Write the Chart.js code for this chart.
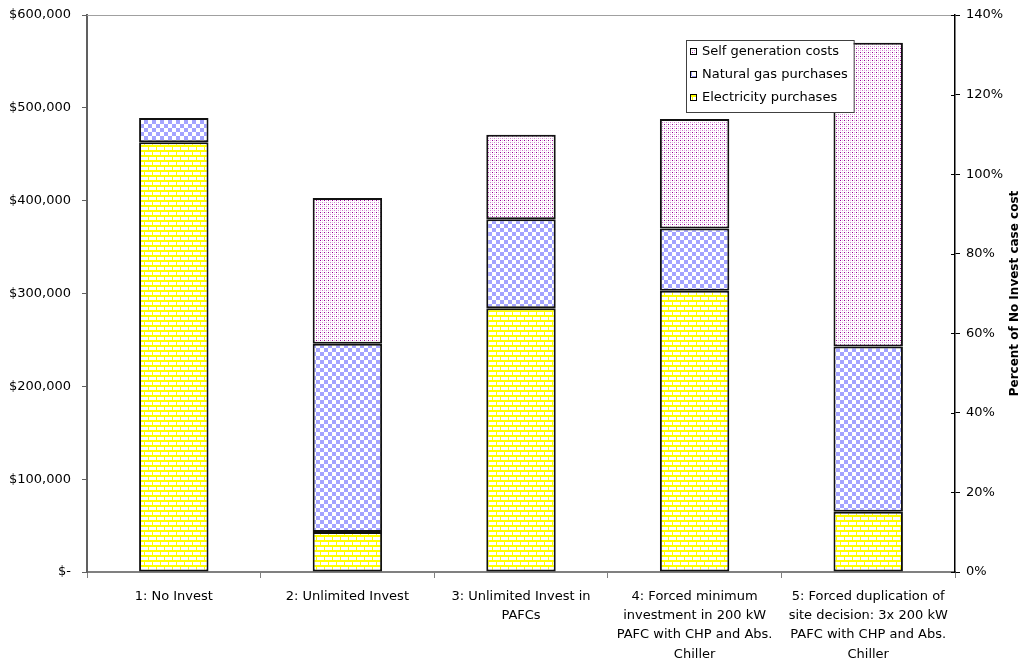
<!DOCTYPE html>
<html lang="en">
<head>
  <meta charset="UTF-8">
  <title>Cost comparison by investment case</title>
  <script src="https://cdn.jsdelivr.net/npm/chart.js"></script>
  <style>
    body {
      margin: 0;
      background: #fff;
    }
    #wrap {
      width: 1026px;
      height: 662px;
    }
  </style>
</head>
<body>
  <div id="wrap"><canvas id="chart" width="1026" height="662"></canvas></div>

  <script>
    // categories (multi-line labels) and series
    const cases = [
      ['1: No Invest'],
      ['2: Unlimited Invest'],
      ['3: Unlimited Invest in', 'PAFCs'],
      ['4: Forced minimum', 'investment in 200 kW', 'PAFC with CHP and Abs.', 'Chiller'],
      ['5: Forced duplication of', 'site decision: 3x 200 kW', 'PAFC with CHP and Abs.', 'Chiller']
    ];
    const electricity = [463000, 43000, 284000, 303000, 65000];
    const naturalGas = [26000, 203000, 96000, 67000, 178000];
    const selfGen = [null, 157000, 91000, 118000, 327000];

    const seriesNames = ['Electricity purchases', 'Natural gas purchases', 'Self generation costs'];
    const dollarTicks = [0, 100000, 200000, 300000, 400000, 500000, 600000];
    const percentTicks = [0, 0.2, 0.4, 0.6, 0.8, 1.0, 1.2, 1.4];
    const rightTitle = 'Percent of No Invest case cost';

    const FONT = 'DejaVu Sans';

    // little fill patterns like the old spreadsheet hatch fills
    function makeTile(w, h, draw) {
      const c = document.createElement('canvas');
      c.width = w; c.height = h;
      const g = c.getContext('2d');
      draw(g);
      return document.getElementById('chart').getContext('2d').createPattern(c, 'repeat');
    }

    const brick = makeTile(8, 10, g => {
      g.fillStyle = '#ffff00';
      g.fillRect(0, 0, 8, 10);
      g.fillStyle = '#ffffff';
      g.fillRect(1, 2, 7, 3);
      g.fillRect(5, 7, 3, 3);
      g.fillRect(0, 7, 4, 3);
    });

    const checker = makeTile(8, 8, g => {
      g.fillStyle = '#ffffff';
      g.fillRect(0, 0, 8, 8);
      g.fillStyle = '#a3a3ff';
      g.fillRect(0, 0, 4, 4);
      g.fillRect(4, 4, 4, 4);
    });

    const dots = makeTile(4, 4, g => {
      g.fillStyle = '#ffffff';
      g.fillRect(0, 0, 4, 4);
      g.fillStyle = '#e6b6e6';
      g.fillRect(2, 0, 1, 1);
      g.fillRect(0, 2, 1, 1);
      g.fillStyle = '#cf80cf';
      g.fillRect(2, 2, 1, 1);
      g.fillStyle = '#990099';
      g.fillRect(0, 0, 1, 1);
    });

    const fills = [brick, checker, dots];

    // legend box inside the plot, top right, in reverse order
    const boxLegend = {
      id: 'boxLegend',
      afterDraw(chart) {
        const ctx = chart.ctx;
        const area = chart.chartArea;
        ctx.save();
        ctx.font = '13px "' + FONT + '"';
        const names = seriesNames.slice().reverse();
        const pats = fills.slice().reverse();
        let tw = 0;
        names.forEach(n => { tw = Math.max(tw, ctx.measureText(n).width); });
        const x = area.left + 599, y = 40;
        const w = tw + 22, h = 72;
        ctx.fillStyle = '#fff';
        ctx.fillRect(x, y, w, h);
        ctx.strokeStyle = '#404040';
        ctx.lineWidth = 1;
        ctx.strokeRect(x + 0.5, y + 0.5, w, h);
        names.forEach((n, i) => {
          const cy = y + 12 + i * 23;
          ctx.fillStyle = pats[i];
          ctx.fillRect(x + 4, cy - 4, 7, 7);
          ctx.strokeStyle = '#000';
          ctx.strokeRect(x + 4.5, cy - 3.5, 6, 6);
          ctx.fillStyle = '#000';
          ctx.textBaseline = 'middle';
          ctx.fillText(n, x + 16, cy);
        });
        ctx.restore();
      }
    };

    // top border of plot, inner halves of right-axis ticks, right axis title
    const extras = {
      id: 'extras',
      afterDraw(chart) {
        const ctx = chart.ctx;
        const area = chart.chartArea;
        const y2 = chart.scales.y2;
        ctx.save();
        ctx.strokeStyle = '#a0a0a0';
        ctx.lineWidth = 1;
        ctx.beginPath();
        ctx.moveTo(area.left, area.top + 0.5);
        ctx.lineTo(area.right, area.top + 0.5);
        ctx.stroke();

        ctx.strokeStyle = '#000';
        ctx.beginPath();
        percentTicks.forEach(p => {
          const py = Math.round(y2.getPixelForValue(p)) + 0.5;
          ctx.moveTo(area.right - 4, py);
          ctx.lineTo(area.right, py);
        });
        ctx.stroke();

        ctx.translate(1015, (area.top + area.bottom) / 2);
        ctx.rotate(-Math.PI / 2);
        ctx.font = 'bold 12px "' + FONT + '"';
        ctx.fillStyle = '#000';
        ctx.textAlign = 'center';
        ctx.textBaseline = 'middle';
        ctx.fillText(rightTitle, 0, 0);
        ctx.restore();
      }
    };

    const datasets = [electricity, naturalGas, selfGen].map((vals, i) => ({
      label: seriesNames[i],
      data: vals,
      backgroundColor: fills[i],
      borderColor: '#111',
      borderWidth: 2,
      borderSkipped: false,
      stack: 'cost',
      yAxisID: 'y',
      barPercentage: 0.4,
      categoryPercentage: 1.0
    }));

    const tickFont = { family: FONT, size: 13 };

    // pin the axis boxes so the plot sits where the original one does
    function fixVertical(width) {
      return s => {
        s.width = width;
        s.paddingTop = 0;
        s.paddingBottom = 0;
      };
    }

    new Chart(document.getElementById('chart'), {
      type: 'bar',
      data: { labels: cases, datasets: datasets },
      plugins: [boxLegend, extras],
      options: {
        responsive: false,
        animation: false,
        layout: { padding: { top: 15, left: 0, right: 0, bottom: 0 } },
        plugins: {
          legend: { display: false },
          tooltip: { enabled: false }
        },
        scales: {
          x: {
            stacked: true,
            offset: true,
            grid: { offset: true, drawOnChartArea: false, tickLength: 6, color: '#808080', lineWidth: 1 },
            border: { color: '#808080', width: 2 },
            ticks: { font: { family: FONT, size: 13, lineHeight: 1.48 }, color: '#000', maxRotation: 0, autoSkip: false, padding: 9 },
            afterFit(s) { s.height = 90; }
          },
          y: {
            stacked: true,
            position: 'left',
            min: 0,
            max: 600000,
            afterBuildTicks(s) { s.ticks = dollarTicks.map(v => ({ value: v })); },
            grid: { drawOnChartArea: false, tickLength: 5, color: '#606060' },
            border: { color: '#606060', width: 2 },
            ticks: {
              font: tickFont,
              color: '#000',
              padding: 11,
              callback: v => v === 0 ? '$-' : '$' + v.toLocaleString('en-US')
            },
            afterFit: fixVertical(87)
          },
          y2: {
            position: 'right',
            min: 0,
            max: 1.4,
            afterBuildTicks(s) { s.ticks = percentTicks.map(v => ({ value: v })); },
            grid: { drawOnChartArea: false, tickLength: 5, color: '#000' },
            border: { color: '#000', width: 1.5 },
            ticks: {
              font: tickFont,
              color: '#000',
              padding: 6,
              callback: v => Math.round(v * 100) + '%'
            },
            afterFit: fixVertical(71)
          }
        }
      }
    });
  </script>
</body>
</html>
